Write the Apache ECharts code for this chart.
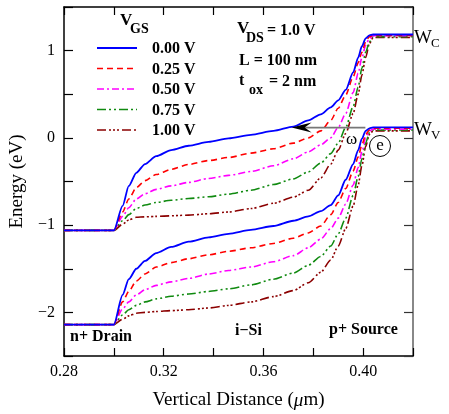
<!DOCTYPE html>
<html>
<head>
<meta charset="utf-8">
<script src="https://cdn.jsdelivr.net/npm/echarts@6/dist/echarts.min.js"></script>
<style>
  html, body { margin: 0; padding: 0; background: #fff; }
  #chart { width: 449px; height: 414px; }
</style>
</head>
<body>
<div id="chart"></div>
<script>
// vertical distance (um), shared by all curves
var distance = [0.28, 0.300, 0.3035, 0.306, 0.309, 0.3125, 0.317, 0.323, 0.330, 0.338, 0.346, 0.355, 0.364,
                0.372, 0.378, 0.383, 0.387, 0.390, 0.393, 0.396, 0.398, 0.3995, 0.401, 0.4025, 0.404, 0.42];

// conduction band (Wc), one array per VGS
var wc000 = [-1.06,-1.06,-0.78,-0.55,-0.40,-0.30,-0.21,-0.14,-0.09,-0.045,-0.005,0.035,0.08,0.13,0.2,0.27,0.35,0.43,0.55,0.75,0.92,1.05,1.14,1.175,1.185,1.185];
var wc025 = [-1.06,-1.06,-0.85,-0.70,-0.57,-0.49,-0.42,-0.36,-0.305,-0.26,-0.225,-0.175,-0.125,-0.06,0.0,0.08,0.20,0.34,0.49,0.70,0.86,0.98,1.10,1.16,1.175,1.175];
var wc050 = [-1.06,-1.06,-0.90,-0.80,-0.70,-0.64,-0.59,-0.55,-0.51,-0.465,-0.43,-0.385,-0.32,-0.24,-0.16,-0.08,0.0,0.12,0.28,0.52,0.74,0.92,1.06,1.14,1.17,1.17];
var wc075 = [-1.06,-1.06,-0.95,-0.88,-0.81,-0.77,-0.74,-0.715,-0.695,-0.675,-0.645,-0.60,-0.535,-0.47,-0.39,-0.29,-0.18,-0.06,0.12,0.36,0.58,0.80,0.98,1.10,1.16,1.16];
var wc100 = [-1.06,-1.06,-0.99,-0.94,-0.91,-0.905,-0.90,-0.893,-0.885,-0.87,-0.85,-0.81,-0.75,-0.68,-0.60,-0.46,-0.30,-0.14,0.05,0.28,0.50,0.72,0.92,1.08,1.15,1.15];

// valence band (Wv)
var wv000 = [-2.14,-2.14,-1.80,-1.62,-1.50,-1.41,-1.32,-1.25,-1.19,-1.14,-1.10,-1.055,-1.01,-0.95,-0.90,-0.84,-0.77,-0.66,-0.48,-0.30,-0.14,-0.01,0.08,0.11,0.12,0.12];
var wv025 = [-2.14,-2.14,-1.88,-1.76,-1.64,-1.56,-1.48,-1.43,-1.385,-1.34,-1.30,-1.26,-1.21,-1.15,-1.09,-1.01,-0.88,-0.74,-0.58,-0.38,-0.22,-0.08,0.04,0.09,0.11,0.11];
var wv050 = [-2.14,-2.14,-1.96,-1.88,-1.80,-1.74,-1.69,-1.65,-1.61,-1.56,-1.52,-1.48,-1.42,-1.35,-1.26,-1.16,-1.04,-0.92,-0.76,-0.54,-0.34,-0.16,0.0,0.08,0.10,0.10];
var wv075 = [-2.14,-2.14,-2.03,-1.97,-1.92,-1.88,-1.845,-1.815,-1.79,-1.76,-1.73,-1.685,-1.62,-1.55,-1.46,-1.36,-1.24,-1.10,-0.92,-0.66,-0.44,-0.24,-0.06,0.06,0.09,0.09];
var wv100 = [-2.14,-2.14,-2.08,-2.04,-2.01,-2.00,-1.99,-1.98,-1.97,-1.95,-1.92,-1.88,-1.82,-1.75,-1.66,-1.54,-1.40,-1.24,-1.04,-0.78,-0.54,-0.32,-0.10,0.04,0.08,0.08];

var vgsNames = ['0.00 V', '0.25 V', '0.50 V', '0.75 V', '1.00 V'];
var wcAll = [wc000, wc025, wc050, wc075, wc100];
var wvAll = [wv000, wv025, wv050, wv075, wv100];

var colors = ['#0000ff', '#ff0000', '#ff00ff', '#108a10', '#8b0000'];
var dashes = ['solid', [6, 4], [7, 3, 2, 3], [9, 3, 2, 3, 2, 3], [9, 3, 2, 2, 2, 2, 2, 3]];

var serif = 'Liberation Serif';

function pairs(ys) {
    return distance.map(function (x, i) { return [x, ys[i]]; });
}

var series = [];
for (var i = 0; i < 5; i++) {
    [wcAll[i], wvAll[i]].forEach(function (band) {
        series.push({
            name: vgsNames[i],
            type: 'line',
            xAxisIndex: 0,
            yAxisIndex: 0,
            data: pairs(band),
            symbol: 'none',
            smooth: 0.25,
            smoothMonotone: 'x',
            color: colors[i],
            lineStyle: { color: colors[i], width: i === 0 ? 1.8 : 1.6, type: dashes[i] },
            z: 10 - i
        });
    });
}

var myChart = echarts.init(document.getElementById('chart'));

var option = {
    backgroundColor: '#fff',
    animation: false,
    grid: { left: 64, right: 36, top: 7, bottom: 58, containLabel: false, outerBoundsMode: 'none' },
    xAxis: [{
        type: 'value',
        min: 0.28, max: 0.42, interval: 0.02,
        name: '{a|Vertical Distance (}{b|μ}{a|m)}',
        nameLocation: 'middle',
        nameGap: 35,
        nameTextStyle: {
            rich: {
                a: { fontFamily: serif, fontSize: 19, color: '#000' },
                b: { fontFamily: serif, fontSize: 19, fontStyle: 'italic', color: '#000' }
            }
        },
        axisLine: { onZero: false, lineStyle: { color: '#000', width: 1.5 } },
        axisTick: { inside: true, length: 8, lineStyle: { color: '#000', width: 1.2 } },
        axisLabel: {
            margin: 8,
            fontFamily: serif, fontSize: 16, color: '#000',
            formatter: function (v) {
                var k = Math.round(v * 100);
                return k % 4 === 0 && k < 42 ? (k / 100).toFixed(2) : '';
            }
        },
        splitLine: { show: false }
    }, {
        type: 'value',
        position: 'top',
        min: 0.28, max: 0.42, interval: 0.02,
        axisLine: { onZero: false, lineStyle: { color: '#000', width: 1.5 } },
        axisTick: { inside: true, length: 8, lineStyle: { color: '#000', width: 1.2 } },
        axisLabel: { show: false },
        splitLine: { show: false }
    }],
    yAxis: [{
        type: 'value',
        min: -2.5, max: 1.5, interval: 0.5,
        name: 'Energy (eV)',
        nameLocation: 'middle',
        nameGap: 37,
        nameTextStyle: { fontFamily: serif, fontSize: 19, color: '#000' },
        axisLine: { onZero: false, lineStyle: { color: '#000', width: 1.5 } },
        axisTick: { inside: true, length: 9, lineStyle: { color: '#000', width: 1.2 } },
        axisLabel: {
            margin: 9,
            fontFamily: serif, fontSize: 16, color: '#000',
            formatter: function (v) {
                if (Math.abs(v - Math.round(v)) > 1e-6 || v > 1.2) return '';
                var n = Math.round(v);
                return n < 0 ? '\u2212' + (-n) : String(n);
            }
        },
        splitLine: { show: false }
    }, {
        type: 'value',
        position: 'right',
        min: -2.5, max: 1.5, interval: 0.5,
        axisLine: { onZero: false, lineStyle: { color: '#888', width: 2 } },
        axisTick: { inside: true, length: 9, lineStyle: { color: '#333', width: 1.2 } },
        axisLabel: { show: false },
        splitLine: { show: false }
    }],
    series: series
};

myChart.setOption(option);

// annotations
var boldTxt = function (x, y, text, size, align) {
    return {
        type: 'text', x: x, y: y, z: 100,
        style: { text: text, fontFamily: serif, fontWeight: 'bold', fontSize: size, fill: '#000',
                 align: align || 'left', verticalAlign: 'middle' }
    };
};
var plainTxt = function (x, y, text, size) {
    return {
        type: 'text', x: x, y: y, z: 100,
        style: { text: text, fontFamily: serif, fontSize: size, fill: '#000', verticalAlign: 'middle' }
    };
};

var graphics = [
    boldTxt(120, 21, 'V', 17),
    boldTxt(130, 29, 'GS', 14),
    boldTxt(237, 29, 'V', 17),
    boldTxt(246, 38, 'DS', 14),
    boldTxt(267, 31, '= 1.0 V', 16),
    boldTxt(239, 61, 'L = 100 nm', 16),
    boldTxt(239, 81, 't', 16),
    boldTxt(249, 90, 'ox', 14),
    boldTxt(269, 82, '= 2 nm', 16),
    boldTxt(70, 337, 'n+ Drain', 16),
    boldTxt(235, 331, 'i\u2212Si', 16),
    boldTxt(329, 330, 'p+ Source', 16),
    plainTxt(414, 38, 'W', 19),
    plainTxt(431, 44, 'C', 13),
    plainTxt(414, 130, 'W', 19),
    plainTxt(431, 136, 'V', 13),
    plainTxt(346, 140, '\u03c9', 17),
    {
        type: 'circle', z: 100,
        shape: { cx: 380, cy: 146, r: 10.5 },
        style: { fill: '#fff', stroke: '#000', lineWidth: 1 }
    },
    {
        type: 'text', x: 380, y: 146, z: 101,
        style: { text: 'e', fontFamily: serif, fontSize: 17, fill: '#000', align: 'center', verticalAlign: 'middle' }
    }
];

// legend: line samples + labels
vgsNames.forEach(function (name, k) {
    var y = 48 + 20.5 * k;
    graphics.push({
        type: 'line', z: 100,
        shape: { x1: 97, y1: y, x2: 137, y2: y },
        style: { stroke: colors[k], lineWidth: k === 0 ? 1.8 : 1.6, lineDash: dashes[k] === 'solid' ? null : dashes[k] }
    });
    graphics.push(boldTxt(152, y + 1, name, 16));
});

// arrow pointing toward the drain along Wv
var tip = myChart.convertToPixel({ gridIndex: 0 }, [0.3713, 0.118]);
var tail = myChart.convertToPixel({ gridIndex: 0 }, [0.4009, 0.118]);
graphics.push({
    type: 'line', z: 100,
    shape: { x1: tail[0], y1: tail[1], x2: tip[0] + 12, y2: tip[1] },
    style: { stroke: '#777', lineWidth: 1.6 }
});
graphics.push({
    type: 'polygon', z: 101,
    shape: { points: [[tip[0], tip[1]], [tip[0] + 20, tip[1] - 5], [tip[0] + 13, tip[1]], [tip[0] + 20, tip[1] + 5]] },
    style: { fill: '#000' }
});

myChart.setOption({ graphic: graphics });

window.addEventListener('resize', function () {
    myChart.resize();
});
</script>
</body>
</html>
